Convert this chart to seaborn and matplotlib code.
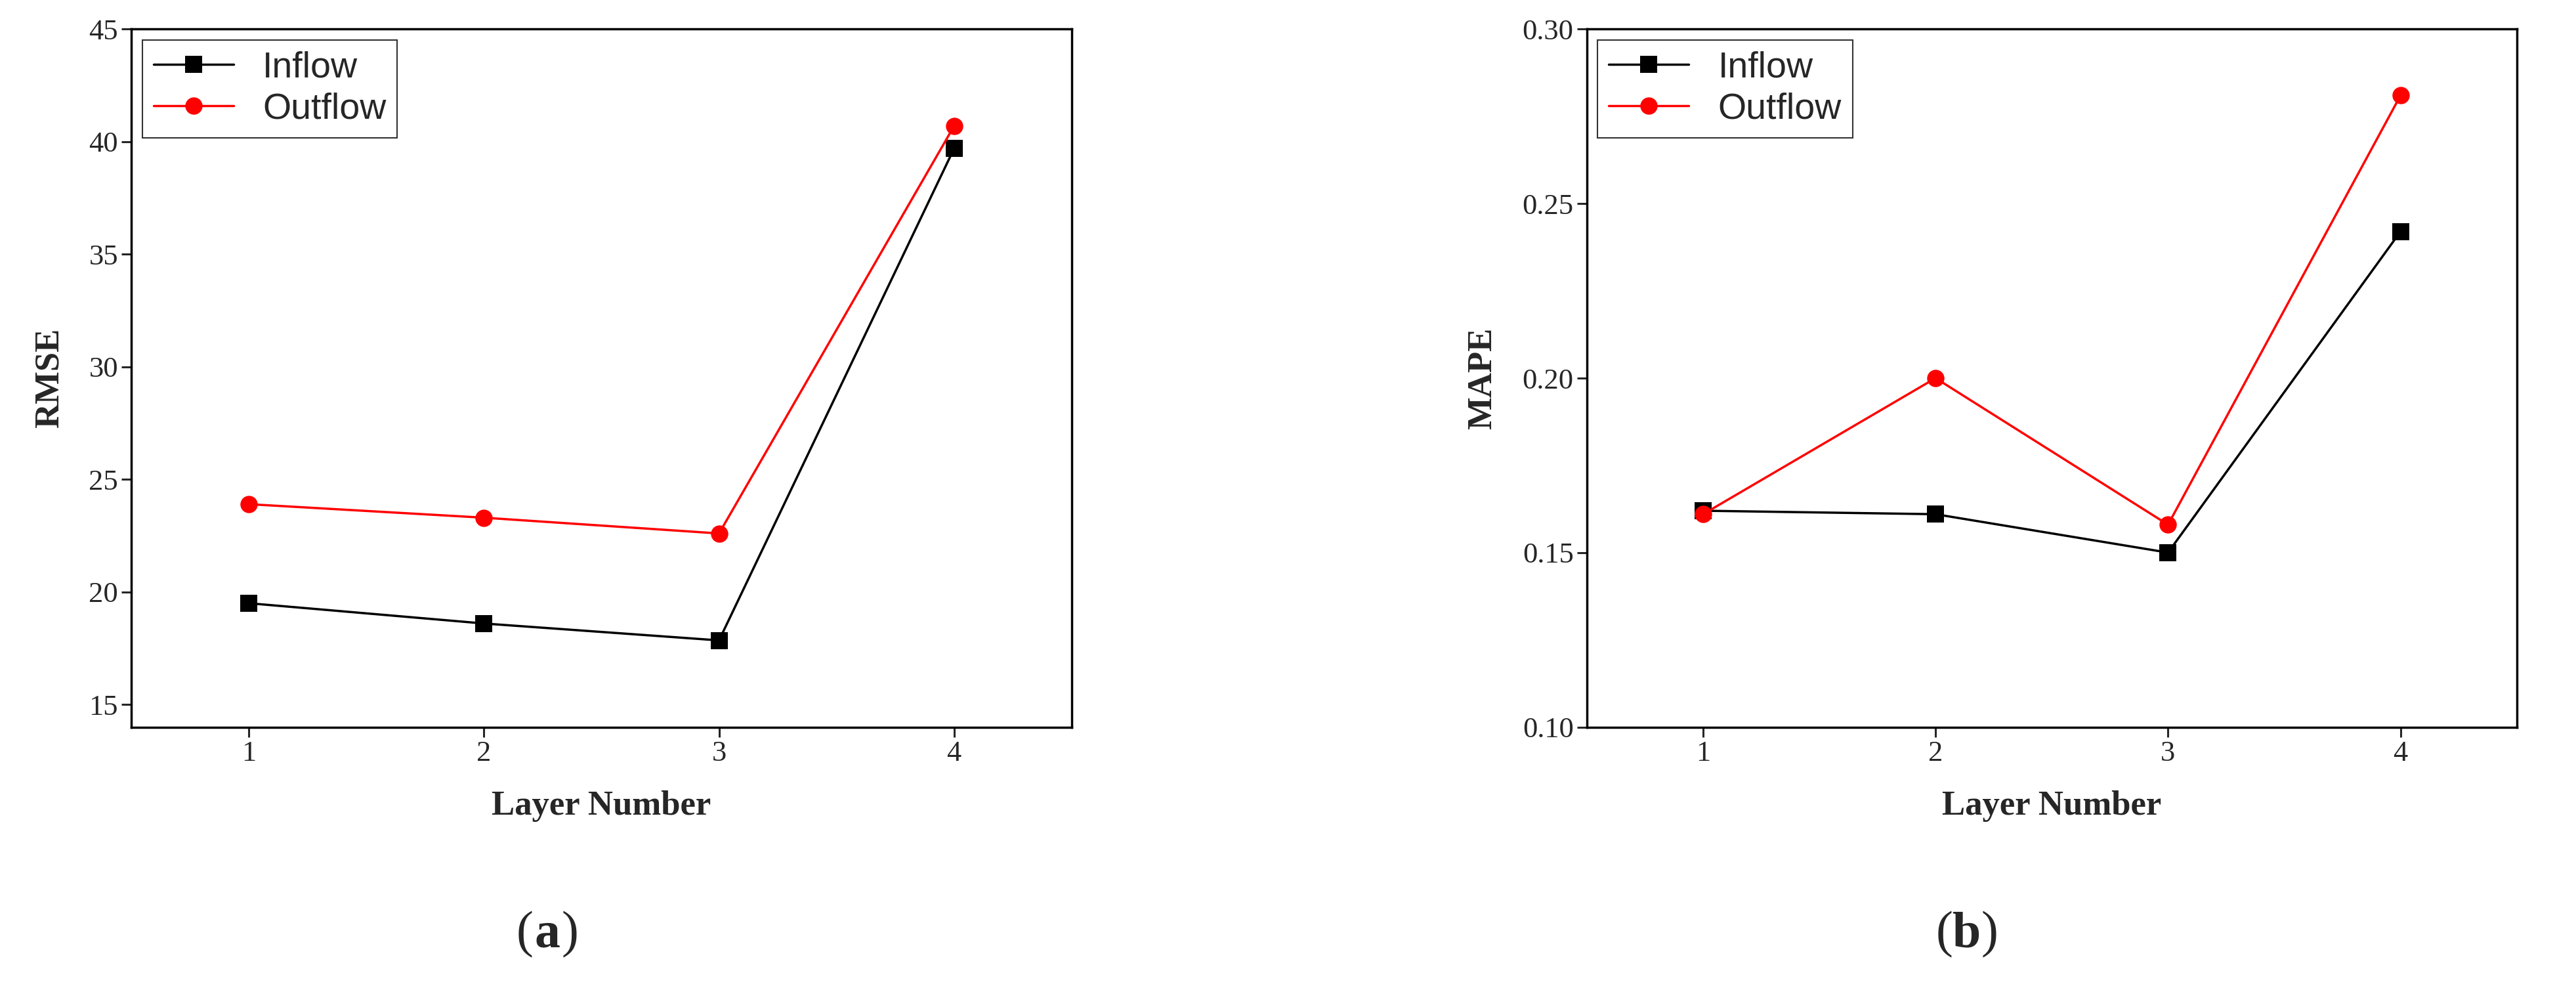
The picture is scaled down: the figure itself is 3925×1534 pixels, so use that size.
import matplotlib
matplotlib.use("Agg")
import matplotlib.pyplot as plt
import pandas as pd
import seaborn as sns

layers = [1, 2, 3, 4]
rmse_inflow = [19.5, 18.6, 17.85, 39.7]
rmse_outflow = [23.9, 23.3, 22.6, 40.7]
mape_inflow = [0.162, 0.161, 0.150, 0.242]
mape_outflow = [0.161, 0.200, 0.158, 0.281]

sns.set_style("ticks")
plt.rcParams["font.family"] = ["Liberation Serif", "DejaVu Serif"]

fig = plt.figure(figsize=(39.25, 15.34), dpi=100)
ax1 = fig.add_axes([0.051, 0.278, 0.365, 0.693])
ax2 = fig.add_axes([0.616, 0.278, 0.361, 0.693])


def draw(ax, inflow, outflow, ylabel, ylim, yticks, fmt):
    df = pd.DataFrame({"layer": layers * 2,
                       "val": inflow + outflow,
                       "kind": ["Inflow"] * 4 + ["Outflow"] * 4})
    sns.lineplot(data=df, x="layer", y="val", hue="kind", style="kind",
                 palette={"Inflow": "black", "Outflow": "red"},
                 markers={"Inflow": "s", "Outflow": "o"}, dashes=False,
                 markersize=19, markeredgewidth=0, linewidth=2.5, ax=ax)
    ax.set_xlim(0.5, 4.5)
    ax.set_ylim(*ylim)
    ax.set_xticks(layers)
    ax.set_yticks(yticks)
    ax.set_yticklabels([fmt.format(v) for v in yticks])
    ax.tick_params(labelsize=32, width=2.2, length=11)
    for s in ax.spines.values():
        s.set_linewidth(2.5)
        s.set_color("black")
    ax.set_xlabel("Layer Number", fontsize=38, fontweight="bold", labelpad=26)
    ax.set_ylabel(ylabel, fontsize=38, fontweight="bold", labelpad=26)
    leg = ax.legend(loc="upper left", frameon=True, fancybox=False,
                    edgecolor="black", handlelength=2.2, borderpad=0.3,
                    labelspacing=0.2, borderaxespad=0.3,
                    prop={"family": "Liberation Sans", "size": 40})
    leg.get_frame().set_linewidth(1.5)


draw(ax1, rmse_inflow, rmse_outflow, "RMSE", (14, 45), [15, 20, 25, 30, 35, 40, 45], "{:.0f}")
draw(ax2, mape_inflow, mape_outflow, "MAPE", (0.10, 0.30), [0.10, 0.15, 0.20, 0.25, 0.30], "{:.2f}")

for xc, letter in [(0.2125, "a"), (0.7635, "b")]:
    fig.text(xc - 0.0055, 0.072, "(", fontsize=56, ha="right", va="center")
    fig.text(xc, 0.072, letter, fontsize=56, fontweight="bold", ha="center", va="center")
    fig.text(xc + 0.0055, 0.072, ")", fontsize=56, ha="left", va="center")

fig.savefig("out.png", dpi=100, facecolor="white")
